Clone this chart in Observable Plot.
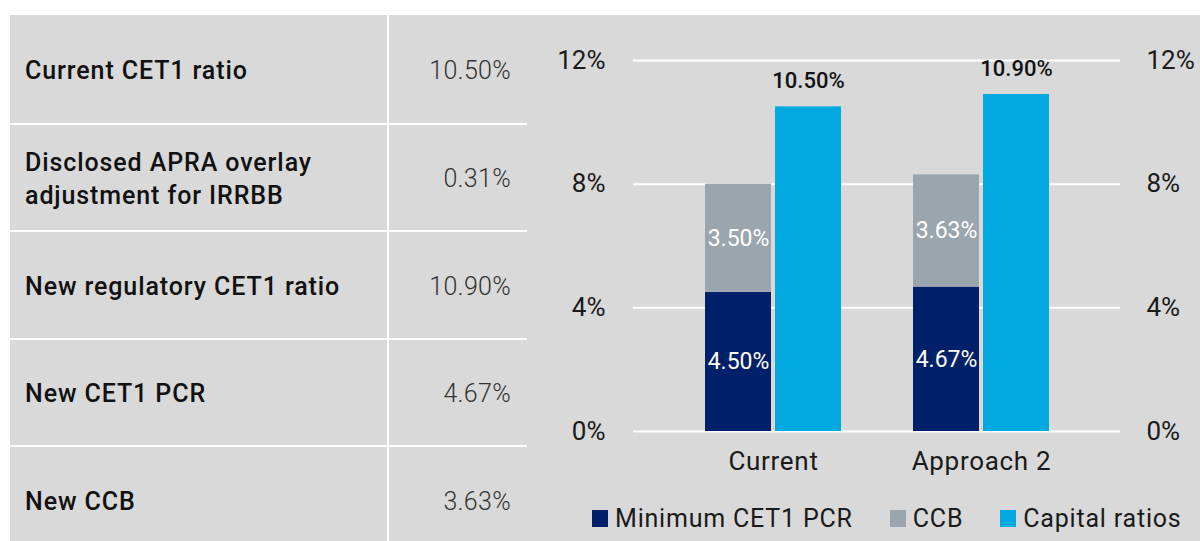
<!DOCTYPE html>
<html>
<head>
<meta charset="utf-8">
<script src="https://cdn.jsdelivr.net/npm/d3@7"></script>
<script src="https://cdn.jsdelivr.net/npm/@observablehq/plot@0.6"></script>
<style>
  html, body { margin: 0; padding: 0; }
  body { width: 1200px; height: 541px; overflow: hidden; background: #fff; position: relative; font-family: Roboto, "Noto Sans", sans-serif; }
  #bg { position: absolute; left: 10px; top: 15px; width: 1190px; height: 526px; background: #d9d9d9; }
  .row { position: absolute; left: 10px; width: 517px; height: 107.5px; display: flex; align-items: center; box-sizing: border-box; padding-top: 3px; }
  .row.sep { border-top: 2px solid #fff; }
  .lab { width: 377px; padding-left: 15px; box-sizing: border-box; font-size: 25px; font-weight: 500; color: #111; line-height: 33px; white-space: pre-line; letter-spacing: 0.9px; }
  .val { width: 140px; padding-right: 16px; box-sizing: border-box; text-align: right; font-size: 25px; font-weight: 300; color: #333; letter-spacing: 0.3px; }
  #vdiv { position: absolute; left: 387px; top: 15px; width: 2px; height: 526px; background: #fff; }
  #chart { position: absolute; left: 527px; top: 15px; }
  #legend { position: absolute; left: 592px; top: 504px; display: flex; align-items: center; font-size: 25px; color: #1a1a1a; white-space: nowrap; letter-spacing: 0.8px; }
  .item { display: flex; align-items: center; margin-right: 37px; }
  .sw { width: 16px; height: 17px; margin-right: 7px; flex: none; }
</style>
</head>
<body>
<div id="bg"></div>
<div id="table"></div>
<div id="vdiv"></div>
<div id="chart"></div>
<div id="legend"></div>
<script>
// ---- data ----
const tableLabels = ["Current CET1 ratio", "Disclosed APRA overlay\nadjustment for IRRBB", "New regulatory CET1 ratio", "New CET1 PCR", "New CCB"];
const tableValues = ["10.50%", "0.31%", "10.90%", "4.67%", "3.63%"];
const categories = ["Current", "Approach 2"];
const minCET1PCR = [4.50, 4.67];
const ccb = [3.50, 3.63];
const capitalRatios = [10.50, 10.90];
const seriesNames = ["Minimum CET1 PCR", "CCB", "Capital ratios"];
const seriesColors = ["#002169", "#9aa5ae", "#00a9df"];
const yTicks = [0, 4, 8, 12];

// ---- table ----
const table = document.getElementById("table");
tableLabels.forEach((lab, i) => {
  const row = document.createElement("div");
  row.className = "row" + (i > 0 ? " sep" : "");
  row.style.top = (15 + i * 107.5) + "px";
  const a = document.createElement("div"); a.className = "lab"; a.textContent = lab;
  const b = document.createElement("div"); b.className = "val"; b.textContent = tableValues[i];
  row.appendChild(a); row.appendChild(b);
  table.appendChild(row);
});

// ---- chart ----
const stackRows = [];
categories.forEach((c, i) => {
  stackRows.push({cat: c, series: seriesNames[0], value: minCET1PCR[i]});
  stackRows.push({cat: c, series: seriesNames[1], value: ccb[i]});
});
const capRows = categories.map((c, i) => ({cat: c, series: seriesNames[2], value: capitalRatios[i]}));
const fmt = v => v.toFixed(2) + "%";

const chart = Plot.plot({
  width: 673, height: 475,
  marginLeft: 106, marginRight: 80, marginTop: 45, marginBottom: 59,
  style: {background: "transparent", fontFamily: "Roboto, sans-serif", fontSize: "26px", color: "#1a1a1a", overflow: "visible"},
  x: {domain: categories, paddingInner: 0.348, paddingOuter: 0.342, label: null},
  y: {domain: [0, 12], label: null},
  color: {domain: seriesNames, range: seriesColors},
  marks: [
    Plot.ruleY(yTicks, {stroke: "#fff", strokeWidth: 2}),
    Plot.barY(stackRows, {x: "cat", y: "value", fill: "series", insetRight: 70}),
    Plot.barY(capRows, {x: "cat", y: "value", fill: "series", insetLeft: 70}),
    Plot.text(stackRows, Plot.stackY({x: "cat", y: "value", text: d => fmt(d.value), fill: "#fff", dx: -35, fontSize: 23})),
    Plot.text(capRows, {x: "cat", y: "value", text: d => fmt(d.value), dx: 35, dy: -26, fontSize: 22, fontWeight: 500, fill: "#111"}),
    Plot.axisY({anchor: "left", ticks: yTicks, tickFormat: d => d + "%", tickSize: 0, tickPadding: 28, label: null}),
    Plot.axisY({anchor: "right", ticks: yTicks, tickFormat: d => d + "%", tickSize: 0, tickPadding: 26, label: null}),
    Plot.axisX({tickSize: 0, tickPadding: 20, label: null})
  ]
});
chart.querySelectorAll("g[aria-label='x-axis tick label'] text").forEach(t => t.style.letterSpacing = "0.7px");
document.getElementById("chart").appendChild(chart);

// ---- legend ----
const legend = document.getElementById("legend");
seriesNames.forEach((s, i) => {
  const it = document.createElement("div"); it.className = "item";
  const sw = document.createElement("div"); sw.className = "sw"; sw.style.background = seriesColors[i];
  const t = document.createElement("span"); t.textContent = s;
  it.appendChild(sw); it.appendChild(t); legend.appendChild(it);
});
</script>
</body>
</html>
